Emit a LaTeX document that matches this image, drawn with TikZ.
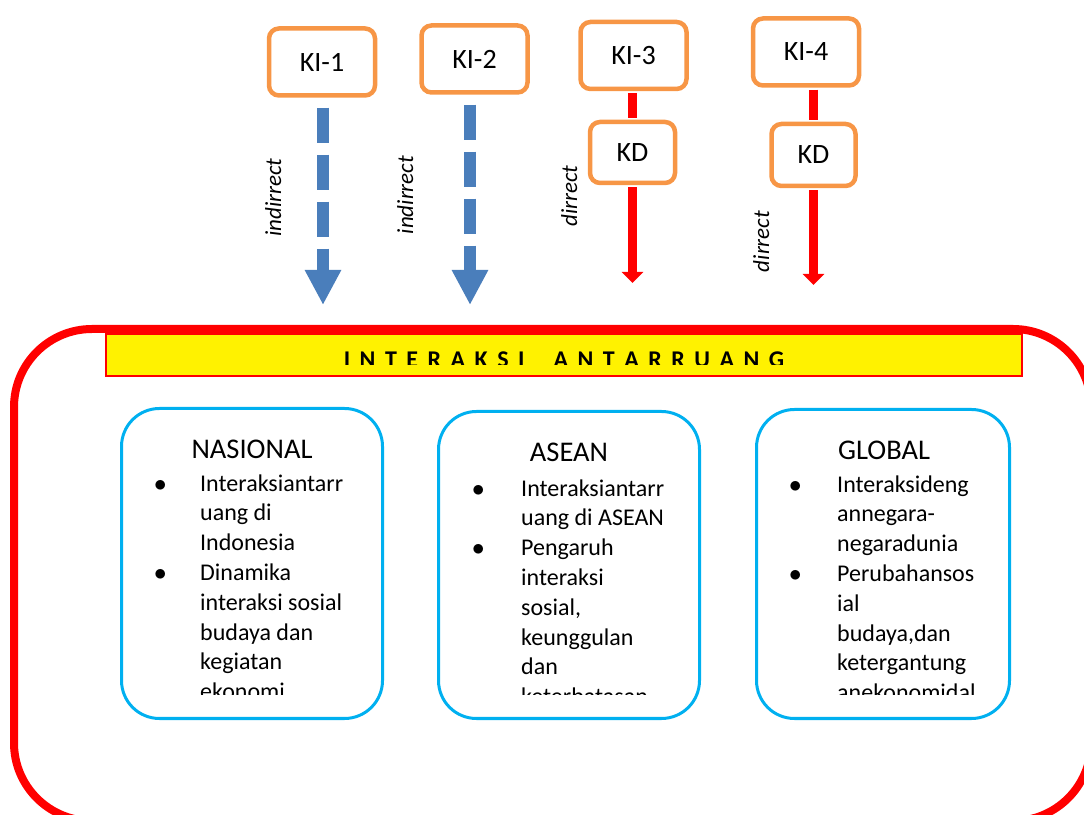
\documentclass[tikz,border=0pt]{standalone}
\usepackage{fontspec}
\setmainfont{Carlito}
\usetikzlibrary{arrows.meta,positioning}
\definecolor{kiorange}{HTML}{F79646}
\definecolor{arrowblue}{HTML}{4A7EBB}
\definecolor{boxcyan}{HTML}{00B0F0}
\newcommand\lsp{\kern9.5pt}
\begin{document}
\begin{tikzpicture}[x=1pt,y=1pt,
	kibox/.style={draw=kiorange,line width=4.5pt,fill=white,rounded corners=10pt,inner sep=0pt,font=\fontsize{28}{34}\selectfont},
	indarrow/.style={draw=arrowblue,line width=12pt,dash pattern=on 35pt off 12pt,shorten <=10pt,-{Triangle[length=35pt,width=34pt]}},
	dirline/.style={draw=red,line width=9pt,shorten <=2pt,shorten >=2pt},
	dirarrow/.style={draw=red,line width=9pt,shorten <=2pt,-{Triangle[length=11pt,width=21pt]}},
	lbl/.style={rotate=90,anchor=base,inner sep=0pt,font=\fontsize{23}{28}\selectfont\itshape},
	areabox/.style={draw=boxcyan,line width=3pt,rounded corners=38pt},
	areatitle/.style={anchor=base,inner sep=0pt,font=\fontsize{28.5}{34}\selectfont},
	arealist/.style={anchor=north west,inner sep=0pt,font=\fontsize{24}{29.8}\selectfont}]
	\useasboundingbox (0,0) rectangle (1084,814);
	\clip (0,0) rectangle (1084,814);
	% KI and KD boxes
	\node[kibox,minimum width=106pt,minimum height=67pt] (ki1) at (322,752) {KI-1};
	\node[kibox,minimum width=106pt,minimum height=67pt] (ki2) at (474.5,755) {KI-2};
	\node[kibox,minimum width=106pt,minimum height=67pt] (ki3) at (633.5,758.5) {KI-3};
	\node[kibox,minimum width=106pt,minimum height=67pt] (ki4) at (806,762) {KI-4};
	\node[kibox,minimum width=85pt,minimum height=61pt] (kda) at (632.5,661.5) {KD};
	\node[kibox,minimum width=84pt,minimum height=62pt] (kdb) at (813.5,659) {KD};
	% arrows
	\coordinate (tipa) at (323,509);
	\coordinate (tipb) at (470,509);
	\coordinate (tipc) at (632.5,531);
	\coordinate (tipd) at (813.5,529);
	\draw[indarrow] (tipa |- ki1.south) -- (tipa);
	\draw[indarrow] (tipb |- ki2.south) -- (tipb);
	\draw[dirline] (kda.north |- ki3.south) -- (kda.north);
	\draw[dirarrow] (kda.south) -- (tipc);
	\draw[dirline] (kdb.north |- ki4.south) -- (kdb.north);
	\draw[dirarrow] (kdb.south) -- (tipd);
	\node[lbl] (ind1) at (281,616.5) {indirrect};
	\node[lbl] (ind2) at (413,619) {indirrect};
	\node[lbl] (dir1) at (577,618) {dirrect};
	\node[lbl] (dir2) at (769,572.5) {dirrect};
	% banner and frame
	\draw[red,line width=2pt,fill=yellow] (106,480) rectangle (1022,438);
	\begin{scope}
		\clip (106,449) rectangle (1022,480);
		\node[anchor=base,inner sep=0pt,font=\fontsize{24}{29}\selectfont\bfseries] (judul) at (564,446.5)
			{I\lsp N\lsp T\lsp E\lsp R\lsp A\lsp K\lsp S\lsp I\kern29pt A\lsp N\lsp T\lsp A\lsp R\lsp R\lsp U\lsp A\lsp N\lsp G};
	\end{scope}
	\draw[red,line width=8pt,rounded corners=78pt] (14,485) rectangle (1091,-7);
	% three areas
	\draw[areabox] (121.5,405.5) rectangle (382.5,95.5);
	\draw[areabox] (438.5,402.5) rectangle (699.5,95.5);
	\draw[areabox] (756.5,404.5) rectangle (1009.5,95.5);
	\node[areatitle] (nas) at (252,355) {NASIONAL};
	\node[areatitle] (ase) at (569,352) {ASEAN};
	\node[areatitle] (glo) at (884,354) {GLOBAL};
	\begin{scope}
		\clip (0,119) rectangle (1084,346);
		\node[arealist] (naslist) at (154,343.9) {\begin{tabular}{@{}p{46pt}@{}l@{}}
			$\bullet$ & Interaksiantarr\\
			& uang di\\
			& Indonesia\\
			$\bullet$ & Dinamika\\
			& interaksi sosial\\
			& budaya dan\\
			& kegiatan\\
			& ekonomi
		\end{tabular}};
		\node[arealist] (aselist) at (472,338.9) {\begin{tabular}{@{}p{49pt}@{}l@{}}
			$\bullet$ & Interaksiantarr\\
			& uang di ASEAN\\
			$\bullet$ & Pengaruh\\
			& interaksi\\
			& sosial,\\
			& keunggulan\\
			& dan\\
			& keterbatasan
		\end{tabular}};
		\node[arealist] (glolist) at (789,342.9) {\begin{tabular}{@{}p{48pt}@{}l@{}}
			$\bullet$ & Interaksideng\\
			& annegara-\\
			& negaradunia\\
			$\bullet$ & Perubahansos\\
			& ial\\
			& budaya,dan\\
			& ketergantung\\
			& anekonomidal
		\end{tabular}};
	\end{scope}
\end{tikzpicture}
\end{document}
